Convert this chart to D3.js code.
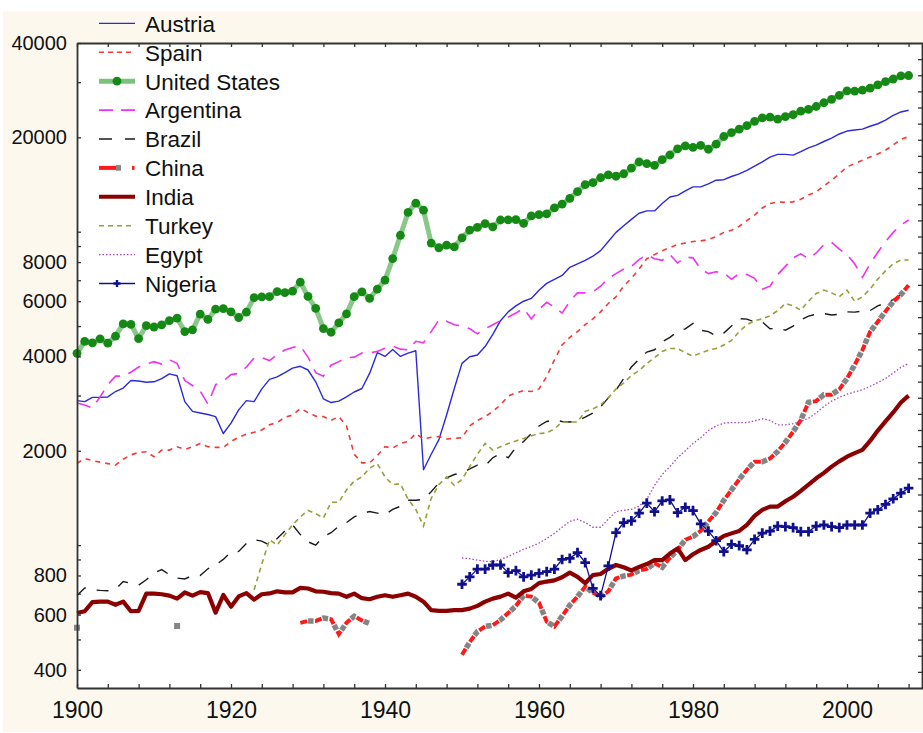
<!DOCTYPE html>
<html><head><meta charset="utf-8">
<script src="https://cdn.jsdelivr.net/npm/d3@7"></script>
<style>body{margin:0;background:#fff;} svg{display:block;font-family:"Liberation Sans",Arial,sans-serif;}</style>
</head><body><svg id="c" width="923" height="733"></svg>
<script>
// ---------- data (GDP per capita) ----------
const austriaStart = 1900;
const austria = [2890,2870,2960,2960,2970,3090,3170,3350,3340,3310,
 3320,3400,3520,3470,2870,2670,2640,2610,2570,2270,
 2450,2700,2890,2870,3150,3380,3440,3550,3670,3720,
 3620,3320,2930,2850,2880,2970,3080,3160,3530,4110,
 4000,4210,4000,4100,4170,1740,1950,2170,2600,3160,
 3800,3990,4040,4300,4700,5200,5550,5800,6000,6125,
 6500,6840,7050,7250,7700,7900,8100,8350,8700,9300,
 9950,10450,10950,11450,11650,11650,12300,12900,13060,13500,
 13900,13900,14200,14600,14650,15000,15300,15700,16200,16700,
 17300,17650,17650,17550,18000,18500,18900,19400,19900,20500,
 20950,21100,21250,21700,22100,22700,23500,24100,24400];

const spainStart = 1900;
const spain = [1825,1890,1860,1840,1820,1800,1880,1940,1975,1985,
 1915,2010,2010,2060,2020,2060,2110,2060,2050,2050,
 2140,2210,2260,2290,2330,2420,2460,2560,2600,2730,
 2650,2580,2570,2500,2570,2400,1950,1830,1830,1930,
 2060,2040,2110,2140,2270,2180,2210,2220,2180,2190,
 2200,2400,2500,2570,2670,2800,2990,3060,3110,3090,
 3150,3450,3900,4350,4600,4800,5050,5270,5550,5900,
 6200,6700,7100,7600,8200,8450,8700,8900,9100,9200,
 9300,9350,9430,9650,9950,10100,10400,10850,11300,11900,
 12300,12450,12400,12450,12700,13100,13400,14000,14600,15300,
 16100,16500,16900,17300,17700,18200,18900,19700,20100];

const usStart = 1900;
const us = [4091,4464,4420,4551,4410,4642,5079,5065,4561,5017,
 4964,5046,5201,5301,4799,4864,5459,5248,5659,5680,
 5552,5323,5540,6164,6195,6205,6439,6387,6458,6899,
 6213,5691,4908,4777,5114,5467,6204,6430,6126,6561,
 7010,8206,9741,11518,12333,11709,9197,8886,9065,8944,
 9561,10116,10316,10613,10359,10897,10914,10920,10631,11230,
 11328,11402,11905,12242,12773,13419,14134,14330,14863,15179,
 15030,15304,15944,16689,16491,16284,16975,17567,18373,18789,
 18577,18856,18325,19025,20123,20717,21236,21788,22499,23059,
 23201,22849,23298,23616,24241,24557,25087,25788,26438,27238,
 28129,28100,28300,28700,29400,30100,30700,31400,31500];

const argentinaStart = 1900;
const argentina = [2840,2800,2740,2970,3250,3460,3460,3560,3700,3780,
 3850,3780,3900,3800,3350,3230,3100,2820,3250,3340,
 3500,3530,3700,3950,3960,3880,4050,4190,4270,4320,
 3980,3550,3460,3750,3850,3960,3980,4100,4100,4150,
 4250,4310,4220,4200,4470,4420,4800,5230,5180,5050,
 5000,4900,4720,4900,5050,5200,5340,5500,5690,5270,
 5650,5950,5750,5500,5990,6380,6380,6430,6700,7100,
 7350,7600,7750,8150,8450,8200,8100,8450,7950,8300,
 8250,7600,7350,7450,7400,7050,7350,7300,7100,6550,
 6700,7300,7750,8250,8500,8200,8550,9100,9250,8800,
 8450,7900,7150,7900,8600,9300,9950,10500,10900];

const brazilStart = 1900;
const brazil = [690,730,720,717,715,722,765,755,745,775,
 815,835,805,785,780,800,800,840,865,900,
 950,955,1012,1040,1030,1000,1050,1110,1160,1080,
 1025,1000,1065,1095,1150,1180,1230,1260,1280,1265,
 1250,1300,1330,1390,1390,1400,1480,1580,1640,1680,
 1700,1750,1800,1790,1900,1960,1900,2050,2140,2270,
 2400,2480,2510,2480,2470,2490,2560,2640,2760,2950,
 3120,3400,3700,3920,4130,4200,4450,4600,4800,4900,
 5100,4850,4800,4650,4750,5000,5280,5260,5150,5150,
 4900,4920,4850,5000,5230,5380,5450,5480,5420,5450,
 5550,5540,5580,5600,5800,5920,6070,6300,6430];

const chinaSingleYears = [1900, 1913];
const chinaSingleValues = [545, 552];
const china1929Start = 1929;
const china1929 = [565,573,573,585,580,520,565,593,575,562];
const china1950Start = 1950;
const china1950 = [447,490,530,550,555,577,607,640,690,685,
 655,570,550,593,643,685,737,705,684,712,
 783,797,805,830,840,875,850,912,966,1040,
 1065,1110,1190,1270,1390,1500,1620,1740,1845,1845,
 1890,1990,2130,2300,2505,2856,2880,3020,3020,3140,
 3400,3760,4190,4790,5160,5570,5980,6300,6750];

const indiaStart = 1900;
const india = [607,615,658,660,660,645,660,615,617,700,
 700,697,690,675,706,690,708,703,609,693,
 636,686,703,670,697,701,712,707,707,730,
 727,712,710,703,700,684,700,677,672,684,
 692,684,692,700,684,660,620,617,617,620,
 620,627,640,660,675,685,700,680,712,725,
 756,765,772,790,817,792,756,802,809,840,
 864,850,830,852,870,896,896,940,976,896,
 935,965,988,1030,1070,1090,1110,1160,1240,1296,
 1327,1327,1380,1427,1490,1560,1634,1700,1780,1850,
 1915,1965,2013,2150,2320,2480,2650,2850,3000];

const turkeyStart = 1923;
const turkey = [720,870,1040,1000,1080,1160,1230,
 1290,1260,1220,1370,1370,1500,1600,1650,1760,1820,
 1650,1560,1570,1400,1300,1150,1410,1560,1650,1550,
 1620,1780,1950,2110,2010,2060,2110,2150,2190,2230,
 2270,2280,2350,2470,2470,2470,2670,2720,2800,2950,
 3150,3290,3480,3600,3800,3960,4150,4240,4240,4110,
 4010,4100,4190,4240,4350,4500,4800,5050,5200,5270,
 5390,5600,5900,5800,5620,6000,6350,6510,6380,6200,
 6510,5990,6200,6560,7060,7500,7900,8120,8120];

const egyptStart = 1950;
const egypt = [910,905,895,888,885,900,920,945,970,990,
 1015,1050,1090,1140,1190,1210,1180,1140,1140,1210,
 1280,1290,1300,1330,1400,1550,1680,1780,1900,2000,
 2110,2200,2320,2400,2450,2460,2460,2460,2490,2530,
 2500,2420,2420,2440,2480,2540,2640,2770,2880,2960,
 3030,3080,3130,3210,3300,3400,3540,3690,3800];

const nigeriaStart = 1950;
const nigeria = [750,792,838,838,864,864,817,829,792,802,
 813,823,838,900,907,946,879,728,690,858,
 1096,1180,1195,1264,1361,1278,1383,1394,1269,1320,
 1288,1168,1108,1033,953,1006,996,966,1043,1092,
 1108,1150,1145,1137,1104,1104,1150,1159,1145,1137,
 1159,1159,1159,1264,1297,1348,1405,1465,1519];

const legendNames = ["Austria","Spain","United States","Argentina","Brazil","China","India","Turkey","Egypt","Nigeria"];
const yTickValues = [400,500,600,700,800,900,1000,2000,3000,4000,5000,6000,7000,8000,9000,10000,20000,30000,40000];
const yTickLabels = [400,600,800,2000,4000,6000,8000,20000,40000];
const xTickLabels = [1900,1920,1940,1960,1980,2000];
const xTickStep = 4;
const rightTickCount = 40;

// ---------- drawing ----------
const svg = d3.select('#c');
svg.append('rect').attr('x',0).attr('y',0).attr('width',923).attr('height',733).attr('fill','#fff');
svg.append('rect').attr('x',3).attr('y',11).attr('width',920).attr('height',721).attr('fill','#fcf8ee');
svg.append('rect').attr('x',77).attr('y',43).attr('width',846).attr('height',645).attr('fill','#fff');

const x = d3.scaleLinear().domain([1900,2010]).range([77,924]);
const y = d3.scaleLog().domain([350,40000]).range([688,43]);

const toPts = (start, vals) => vals.map((v,i)=>({yr:start+i, v:v}));
const line = d3.line().x(d=>x(d.yr)).y(d=>y(d.v));

const plot = svg.append('g');
function path(data, attrs){
  const p = plot.append('path').datum(data).attr('d', line).attr('fill','none');
  for (const k in attrs) p.attr(k, attrs[k]);
  return p;
}

// Austria
path(toPts(austriaStart, austria), {stroke:'#2a2ad8','stroke-width':1.4,'stroke-linejoin':'round'});
// Spain
path(toPts(spainStart, spain), {stroke:'#f03a3a','stroke-width':1.6,'stroke-dasharray':'5,5'});
// US
const usPts = toPts(usStart, us);
path(usPts, {stroke:'#7cc27c','stroke-width':5,'stroke-linejoin':'round','stroke-opacity':0.9});
plot.append('g').selectAll('circle').data(usPts).join('circle')
  .attr('cx',d=>x(d.yr)).attr('cy',d=>y(d.v)).attr('r',4.4).attr('fill','#148a14');
// Argentina
path(toPts(argentinaStart, argentina), {stroke:'#ee33ee','stroke-width':1.6,'stroke-dasharray':'14,9'});
// Brazil
path(toPts(brazilStart, brazil), {stroke:'#1a1a1a','stroke-width':1.4,'stroke-dasharray':'12,11'});
// China
function chinaPath(data){
  path(data, {stroke:'#ff1a1a','stroke-width':4,'stroke-dasharray':'7,8'});
  path(data, {stroke:'#858585','stroke-width':5.5,'stroke-dasharray':'5.5,9.5','stroke-dashoffset':-8});
}
chinaPath(toPts(china1929Start, china1929));
chinaPath(toPts(china1950Start, china1950));
plot.append('g').selectAll('rect').data(chinaSingleYears.map((yr,i)=>({yr, v:chinaSingleValues[i]}))).join('rect')
  .attr('x',d=>x(d.yr)-3).attr('y',d=>y(d.v)-3).attr('width',6).attr('height',6).attr('fill','#858585');
// India
path(toPts(indiaStart, india), {stroke:'#8b0000','stroke-width':4.2,'stroke-linejoin':'round'});
// Turkey
path(toPts(turkeyStart, turkey), {stroke:'#9a9e3a','stroke-width':1.6,'stroke-dasharray':'5,4'});
// Egypt
path(toPts(egyptStart, egypt), {stroke:'#a443b4','stroke-width':1.3,'stroke-dasharray':'1.5,2'});
// Nigeria
const ngPts = toPts(nigeriaStart, nigeria);
path(ngPts, {stroke:'#10108c','stroke-width':1.3});
const plus = 'M-4.8,0H4.8M0,-4.8V4.8';
plot.append('g').selectAll('path').data(ngPts).join('path')
  .attr('transform',d=>`translate(${x(d.yr)},${y(d.v)})`).attr('d',plus)
  .attr('stroke','#10108c').attr('stroke-width',2.8).attr('fill','none');

// ---------- axes ----------
const axisColor = '#333';
const xTickValues = d3.range(1900, 2009, xTickStep);
const gL = svg.append('g').attr('transform','translate(77,0)')
  .call(d3.axisLeft(y).tickValues(yTickValues).tickSize(-4).tickSizeOuter(0).tickPadding(10)
    .tickFormat(d => yTickLabels.includes(d) ? String(d) : ''));
gL.selectAll('text').attr('font-size',20).attr('font-family','"Liberation Sans",Arial,sans-serif').attr('fill','#111');

const gB = svg.append('g').attr('transform','translate(0,688)')
  .call(d3.axisBottom(x).tickValues(xTickValues).tickSize(-4).tickSizeOuter(0).tickPadding(14)
    .tickFormat(d => xTickLabels.includes(d) ? String(d) : ''));
gB.selectAll('text').attr('font-size',23).attr('font-family','"Liberation Sans",Arial,sans-serif').attr('fill','#111');

svg.append('g').attr('transform','translate(0,43)')
  .call(d3.axisTop(x).tickValues(xTickValues).tickSize(-4).tickSizeOuter(0).tickFormat(''));

const yr = d3.scaleLinear().domain([0, rightTickCount]).range([688, 43]);
svg.append('g').attr('transform','translate(922,0)')
  .call(d3.axisRight(yr).tickValues(d3.range(1, rightTickCount)).tickSize(-4).tickSizeOuter(0).tickFormat(''));

svg.selectAll('.domain').attr('stroke',axisColor).attr('stroke-width',1.8);
svg.selectAll('.tick line').attr('stroke',axisColor).attr('stroke-width',1.3);

// ---------- legend ----------
const lg = svg.append('g');
const lx0 = 99, lx1 = 135, tx = 145;
legendNames.forEach((name, i) => {
  const base = 31.7 + 28.9 * i;
  const ly = base - 8.3;
  const g = lg.append('g');
  const seg = (a, b, attrs) => { const l = g.append('line').attr('x1',a).attr('x2',b).attr('y1',ly).attr('y2',ly); for (const k in attrs) l.attr(k, attrs[k]); return l; };
  if (name === 'Austria') seg(lx0, lx1, {stroke:'#2a2ad8','stroke-width':1.4});
  if (name === 'Spain') seg(lx0, lx1, {stroke:'#f03a3a','stroke-width':1.6,'stroke-dasharray':'5,4'});
  if (name === 'United States') { seg(lx0, lx1, {stroke:'#7cc27c','stroke-width':5}); g.append('circle').attr('cx',117).attr('cy',ly).attr('r',4.4).attr('fill','#148a14'); }
  if (name === 'Argentina') seg(lx0, lx1, {stroke:'#ee33ee','stroke-width':1.6,'stroke-dasharray':'14,8'});
  if (name === 'Brazil') seg(lx0, lx1, {stroke:'#1a1a1a','stroke-width':1.4,'stroke-dasharray':'13,13'});
  if (name === 'China') { seg(lx0, 116, {stroke:'#ff1a1a','stroke-width':4}); g.append('rect').attr('x',116).attr('y',ly-2.8).attr('width',5).attr('height',5.6).attr('fill','#858585'); seg(132, 134.5, {stroke:'#ff1a1a','stroke-width':4}); }
  if (name === 'India') seg(lx0, lx1, {stroke:'#8b0000','stroke-width':4});
  if (name === 'Turkey') seg(lx0, lx1, {stroke:'#9a9e3a','stroke-width':1.6,'stroke-dasharray':'5,4'});
  if (name === 'Egypt') seg(lx0, lx1, {stroke:'#a443b4','stroke-width':1.3,'stroke-dasharray':'1.5,2'});
  if (name === 'Nigeria') { seg(lx0, lx1, {stroke:'#10108c','stroke-width':1.3});
    g.append('path').attr('transform',`translate(117,${ly})`).attr('d','M-3.5,0H3.5M0,-3.5V3.5').attr('stroke','#10108c').attr('stroke-width',2.4); }
  g.append('text').attr('x',tx).attr('y',base).attr('font-size',22.5).attr('fill','#111').text(name);
});
</script>
</body></html>
